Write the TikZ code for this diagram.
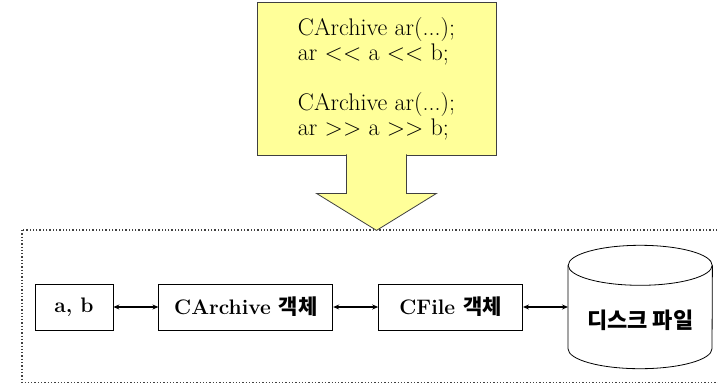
\documentclass[tikz,border=0pt]{standalone}
\usepackage{fontspec}
\newfontfamily\krfont{Noto Sans CJK KR}
\usetikzlibrary{arrows.meta, positioning}
\definecolor{memo}{RGB}{255,255,153}
\newcommand{\shl}{<\kern0pt<}
\newcommand{\shr}{>\kern0pt>}

\begin{document}
\begin{tikzpicture}[x=1pt, y=-1pt, >={Stealth[length=6pt,width=5pt]},
	box/.style={draw, line width=0.8pt, inner sep=0pt, minimum height=46pt, font=\fontsize{21}{21}\selectfont\bfseries},
	link/.style={<->, line width=1.3pt}]
	\useasboundingbox (0,0) rectangle (718,384);
	% frame
	\draw[dotted, line width=1.3pt, black!75] (22,230) rectangle (722,382.5);
	% source
	\node[draw=black!75, fill=memo, line width=0.8pt, minimum width=239pt, minimum height=153pt, align=left, font=\fontsize{24}{25}\selectfont] (code) at (376.5,78.5) {CArchive ar(...);\\ ar \shl{} a \shl{} b;\\[25pt] CArchive ar(...);\\ ar \shr{} a \shr{} b;};
	\path[fill=memo, draw=black!75, line width=0.8pt, miter limit=20] ([xshift=-30pt]code.south) ++(0,-1) -- ++(0,39) -- ++(-30,0) -- ++(60,37) -- ++(60,-37) -- ++(-30,0) -- ++(0,-39);
	% row
	\node[box, minimum width=78pt] (ab) at (74,307) {a, b};
	\node[box, minimum width=174pt, right=45pt of ab] (archive) {CArchive {\krfont 객체}};
	\node[box, minimum width=144pt, right=45pt of archive] (cfile) {CFile {\krfont 객체}};
	\node[inner sep=0pt, minimum width=144pt, minimum height=123pt, text height=43pt, text depth=0pt, right=45pt of cfile, font=\krfont\fontsize{22}{22}\selectfont\bfseries] (disk) {디스크 파일};
	\draw[line width=0.8pt] ([yshift=-20pt]disk.north) ellipse [x radius=72pt, y radius=20pt];
	\draw[line width=0.8pt] ([yshift=-20pt]disk.north west) -- ([yshift=20pt]disk.south west) arc[start angle=180, end angle=360, x radius=72pt, y radius=20pt] -- ([yshift=-20pt]disk.north east);
	\draw[link] (ab) -- (archive);
	\draw[link] (archive) -- (cfile);
	\draw[link] (cfile) -- (disk);
\end{tikzpicture}
\end{document}
